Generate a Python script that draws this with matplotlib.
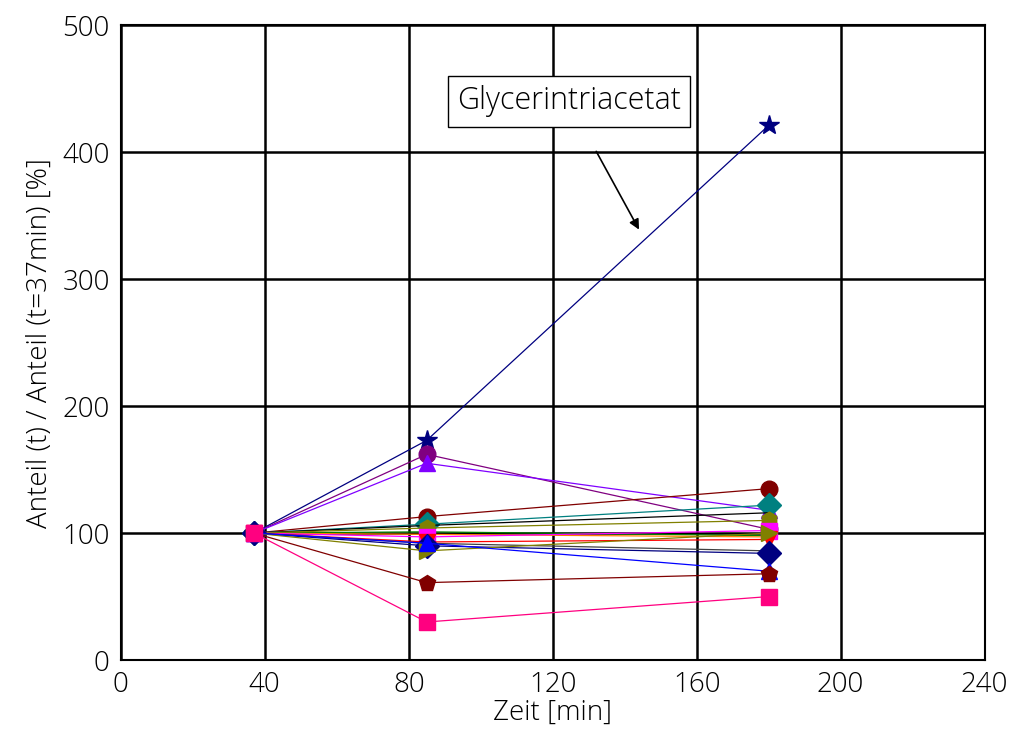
import numpy as np
import matplotlib.pyplot as plt

plt.rcParams['font.family'] = ['Open Sans', 'DejaVu Sans']
plt.rcParams['font.weight'] = 'light'
plt.rcParams['axes.labelweight'] = 'light'

t = [37, 85, 180]

# Anteil relativ zu t=37min [%], je Substanz
series = [
    ('navy',      '*', [100, 173, 421]),
    ('purple',    'o', [100, 162, 103]),
    ('#8000ff',   '^', [100, 155, 118]),
    ('#800000',   'o', [100, 113, 135]),
    ('teal',      'D', [100, 107, 122]),
    ('black',     '',  [100, 106, 116]),
    ('green',     '',  [100, 101,  98]),
    ('#ff8000',   '',  [100,  99,  97]),
    ('#808000',   'h', [100, 104, 110]),
    ('magenta',   's', [100,  97, 102]),
    ('red',       'v', [100,  93,  95]),
    ('#404040',   '',  [100,  92,  86]),
    ('navy',      'D', [100,  90,  84]),
    ('#808000',   '>', [100,  86, 100]),
    ('blue',      '^', [100,  92,  70]),
    ('#800000',   'p', [100,  61,  68]),
    ('#ff0080',   's', [100,  30,  50]),
]

fig = plt.figure(figsize=(10.15, 7.4), dpi=100)
ax = fig.add_axes([0.119, 0.108, 0.851, 0.858])

for col, mk, vals in series:
    ms = 15 if mk == '*' else 12
    ax.plot(t, vals, color=col, lw=0.9, marker=mk if mk else None, ms=ms,
            markeredgecolor=col, zorder=3)

ax.set_xlim(0, 240)
ax.set_ylim(0, 500)
ax.set_xticks(np.arange(0, 241, 40))
ax.set_yticks(np.arange(0, 501, 100))
ax.grid(True, color='black', lw=1.8)
ax.set_axisbelow(True)
for s in ax.spines.values():
    s.set_linewidth(1.5)
ax.tick_params(labelsize=20, length=0, pad=8)
ax.set_xlabel('Zeit [min]', fontsize=20, labelpad=0)
ax.set_ylabel('Anteil (t) / Anteil (t=37min) [%]', fontsize=20, labelpad=6)

ax.annotate('Glycerintriacetat', xy=(144, 339), xytext=(124.5, 440),
            fontsize=22, ha='center', va='center',
            bbox=dict(boxstyle='square,pad=0.3', fc='white', ec='black', lw=1),
            arrowprops=dict(arrowstyle='-|>', color='black', lw=1.2,
                            shrinkA=20, shrinkB=0, mutation_scale=15),
            zorder=5)

fig.savefig('out.png', dpi=100)
